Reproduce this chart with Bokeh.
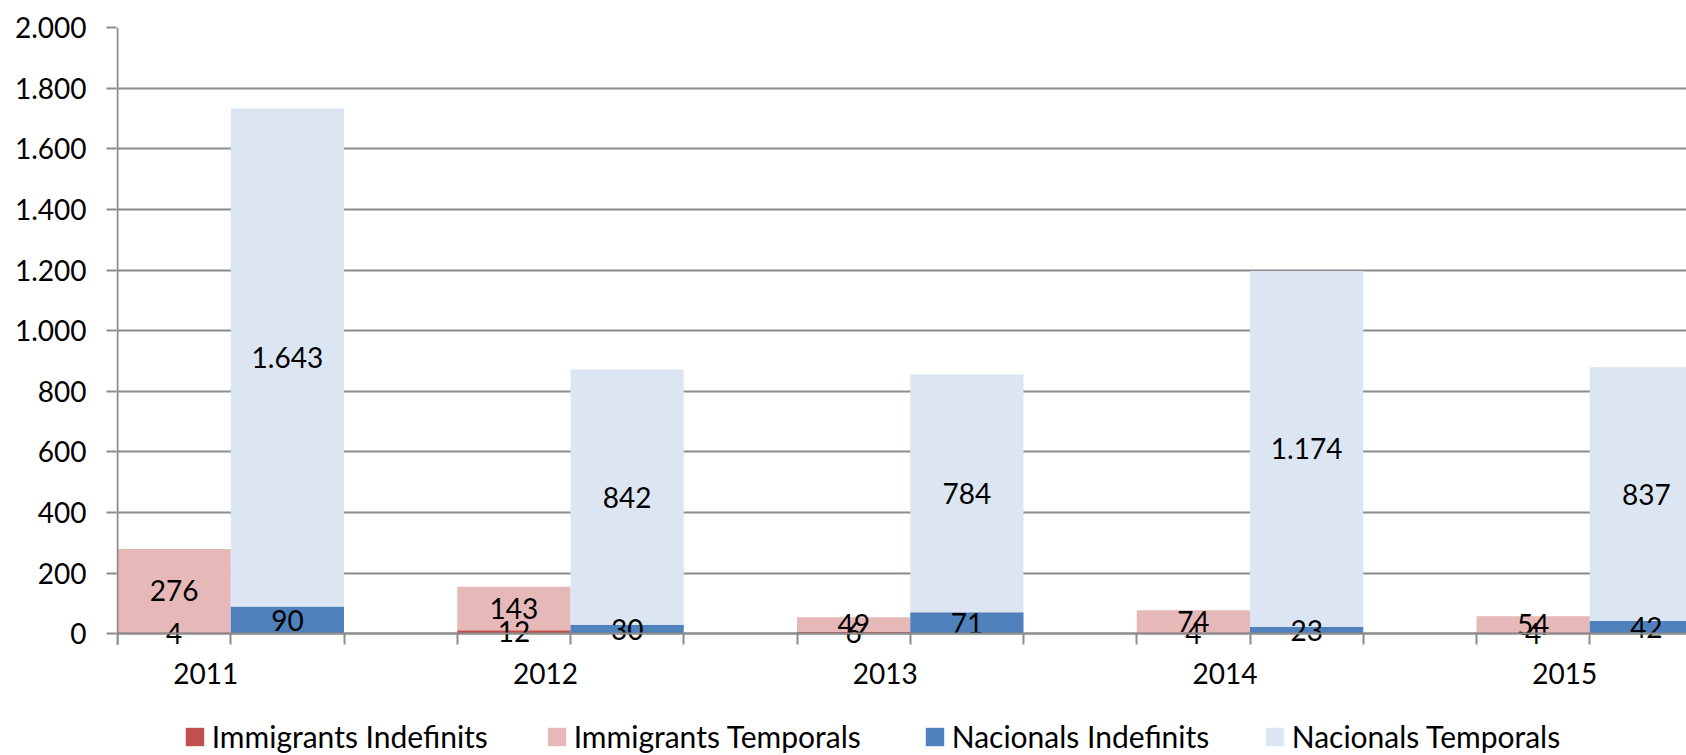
from bokeh.plotting import figure
from bokeh.models import Range1d, FixedTicker, Legend, LegendItem
from bokeh.core.properties import value
from bokeh.embed import file_html
from bokeh.resources import INLINE

# ---- data ----
years = ["2011", "2012", "2013", "2014", "2015"]
imm_indef = [4, 12, 6, 4, 4]
imm_temp = [276, 143, 49, 74, 54]
nac_indef = [90, 30, 71, 23, 42]
nac_temp = [1643, 842, 784, 1174, 837]
series_names = ["Immigrants Indefinits", "Immigrants Temporals",
                "Nacionals Indefinits", "Nacionals Temporals"]
y_tick_values = [0, 200, 400, 600, 800, 1000, 1200, 1400, 1600, 1800, 2000]

# ---- style ----
FONT = "Lato"
FS = "28px"
LEG_FS = "30px"
colors = ["#C0504D", "#E6B9B8", "#4F81BD", "#DCE6F2"]
GRID = "#8c8c8c"

def fmt(v):
    return f"{v:,}".replace(",", ".")

W, H = 1686, 755
LEFT, TOP = 116, 27
SLOT_PX = 113.25
PX_PER_UNIT = 606.3 / 2000
x_start = -1 / SLOT_PX
x_end = (W - LEFT - 1) / SLOT_PX
y_start = -(H - TOP - 606.3) / PX_PER_UNIT

p = figure(width=W, height=H, x_range=Range1d(x_start, x_end), y_range=Range1d(y_start, 2000),
           output_backend="svg", toolbar_location=None,
           min_border_left=LEFT, min_border_right=0, min_border_top=TOP,
           min_border_bottom=0)
p.outline_line_color = None
p.background_fill_color = "white"

n = len(years)
x_imm = [3 * i + 0.5 for i in range(n)]
x_nac = [3 * i + 1.5 for i in range(n)]

imm_top1 = imm_indef
imm_top2 = [a + b for a, b in zip(imm_indef, imm_temp)]
nac_top1 = nac_indef
nac_top2 = [a + b for a, b in zip(nac_indef, nac_temp)]

# gridlines (drawn under bars)
yt = FixedTicker(ticks=y_tick_values)
p.ygrid.ticker = yt
p.ygrid.grid_line_color = GRID
p.ygrid.grid_line_width = 2
p.xgrid.visible = False

r1 = p.vbar(x=x_imm, width=1, bottom=0, top=imm_top1, fill_color=colors[0], line_color=None)
r2 = p.vbar(x=x_imm, width=1, bottom=imm_top1, top=imm_top2, fill_color=colors[1], line_color=None)
r3 = p.vbar(x=x_nac, width=1, bottom=0, top=nac_top1, fill_color=colors[2], line_color=None)
r4 = p.vbar(x=x_nac, width=1, bottom=nac_top1, top=nac_top2, fill_color=colors[3], line_color=None)

# value axis line (from the top of the scale down to the category tick length)
p.segment(x0=[0], y0=[-36], x1=[0], y1=[2000], line_color=GRID, line_width=2)

# data labels, centered in each segment
lab_x, lab_y, lab_t = [], [], []
for i in range(n):
    segs = [(x_imm[i], 0, imm_top1[i], imm_indef[i]),
            (x_imm[i], imm_top1[i], imm_top2[i], imm_temp[i]),
            (x_nac[i], 0, nac_top1[i], nac_indef[i]),
            (x_nac[i], nac_top1[i], nac_top2[i], nac_temp[i])]
    for x, b, t, v in segs:
        lab_x.append(x)
        lab_y.append((b + t) / 2)
        lab_t.append(fmt(v))
p.text(x=lab_x, y=lab_y, text=lab_t, text_font=value(FONT), text_font_size=FS,
       text_align="center", text_baseline="middle", text_color="black")

# y axis
p.yaxis.ticker = yt
p.yaxis.major_label_overrides = {v: fmt(v) for v in y_tick_values}
p.yaxis.major_label_text_font = FONT
p.yaxis.major_label_text_font_size = FS
p.yaxis.major_label_text_color = "black"
p.yaxis.major_tick_out = 10
p.yaxis.major_tick_in = 0
p.yaxis.major_tick_line_color = GRID
p.yaxis.major_tick_line_width = 2
p.yaxis.minor_tick_line_color = None
p.yaxis.axis_line_color = None
p.yaxis.major_label_standoff = 20

# x axis at value 0: labels per year, small ticks at every slot boundary
year_pos = [3 * i + 0.78 for i in range(n)]
xt = FixedTicker(ticks=year_pos, minor_ticks=list(range(0, 3 * n + 1)))
p.xaxis.fixed_location = 0
p.xaxis.ticker = xt
p.xaxis.major_label_overrides = {pos: y for pos, y in zip(year_pos, years)}
p.xaxis.major_label_text_font = FONT
p.xaxis.major_label_text_font_size = FS
p.xaxis.major_label_text_color = "black"
p.xaxis.major_tick_line_color = None
p.xaxis.major_tick_out = 0
p.xaxis.major_tick_in = 0
p.xaxis.minor_tick_out = 11
p.xaxis.minor_tick_in = 0
p.xaxis.minor_tick_line_color = GRID
p.xaxis.minor_tick_line_width = 2
p.xaxis.axis_line_color = GRID
p.xaxis.axis_line_width = 2
p.xaxis.major_label_standoff = 18

# legend at the bottom, one entry per series
leg_x = [66.7, 428.7, 806.7, 1146.7]
for nm, r, lx in zip(series_names, [r1, r2, r3, r4], leg_x):
    lg = Legend(items=[LegendItem(label=nm, renderers=[r])],
                location=(lx, 1), orientation="horizontal", padding=0, margin=0, spacing=0,
                glyph_width=23, glyph_height=23, label_standoff=6,
                label_text_font=FONT, label_text_font_size=LEG_FS, label_text_color="black",
                border_line_color=None, background_fill_alpha=0)
    p.add_layout(lg, "center")

open("out.html", "w").write(file_html(p, INLINE))
